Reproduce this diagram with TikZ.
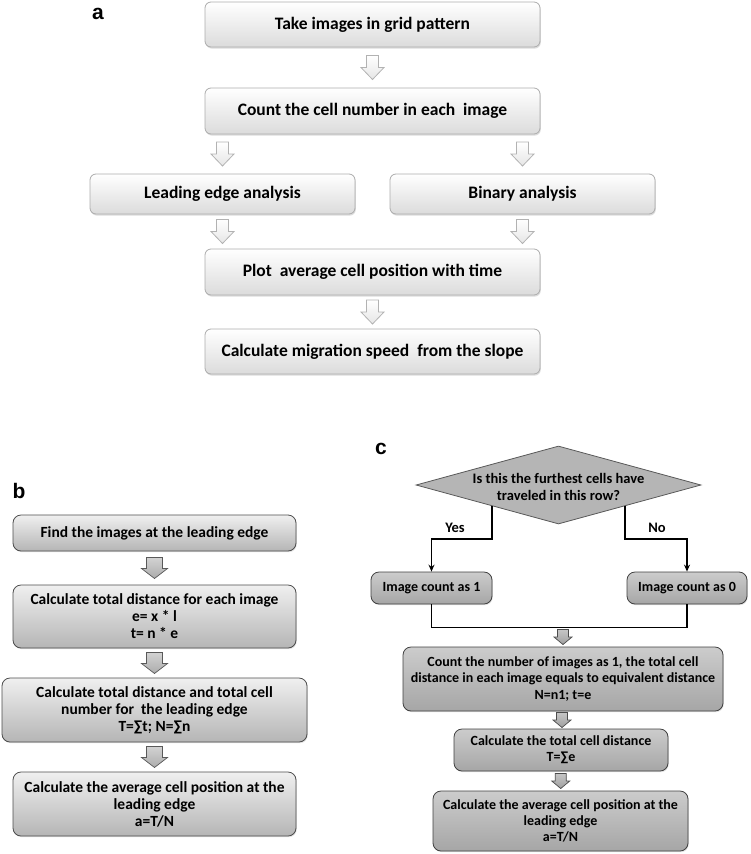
\documentclass[tikz,border=0pt]{standalone}
\usepackage{fontspec}
\setmainfont{Carlito}
\newfontfamily\labfont{Liberation Sans}
\usetikzlibrary{shapes.geometric,shadows,calc,arrows.meta}
\begin{document}
\begin{tikzpicture}[x=1pt,y=-1pt,
  boxA/.style={draw=gray!65, line width=0.8pt, rounded corners=6pt, top color=white, bottom color=gray!28,
    font=\fontsize{17.5}{20}\selectfont\bfseries, align=center, inner sep=0pt,
    drop shadow={shadow xshift=0.8pt,shadow yshift=-1.6pt,fill=gray!55}},
  boxB/.style={draw=black!70, line width=0.8pt, rounded corners=8pt, top color=gray!12, bottom color=gray!58,
    font=\fontsize{15.5}{17}\selectfont\bfseries, align=center, inner sep=0pt,
    drop shadow={shadow xshift=0.8pt,shadow yshift=-1.2pt,fill=gray!45}},
  boxC/.style={draw=black!75, line width=0.8pt, rounded corners=8pt, top color=gray!40, bottom color=gray!70,
    font=\fontsize{14}{16.3}\selectfont\bfseries, align=center, inner sep=0pt,
    drop shadow={shadow xshift=0.8pt,shadow yshift=-1.2pt,fill=gray!45}},
  arrA/.style={draw=gray!60, line width=0.8pt, top color=white, bottom color=gray!20},
  arrB/.style={draw=black!65, line width=0.7pt, top color=gray!35, bottom color=gray!65},
  arrC/.style={draw=black!70, line width=0.7pt, top color=gray!45, bottom color=gray!75},
  conn/.style={draw=black, line width=1.4pt},
  lab/.style={font=\labfont\fontsize{21}{21}\selectfont\bfseries},
  yn/.style={font=\fontsize{14.5}{16}\selectfont\bfseries},
  pics/arrowA/.style={code={\path[pic actions] (-6,-12) -- (6,-12) -- (6,0) -- (11.5,0) -- (0,12) -- (-11.5,0) -- (-6,0) -- cycle;}},
  pics/arrowB/.style={code={\path[pic actions] (-8,-10.5) -- (8,-10.5) -- (8,0.5) -- (13,0.5) -- (0,10.5) -- (-13,0.5) -- (-8,0.5) -- cycle;}},
  pics/arrowC/.style={code={\path[pic actions] (-5.5,-7.5) -- (5.5,-7.5) -- (5.5,0) -- (9,0) -- (0,7.5) -- (-9,0) -- (-5.5,0) -- cycle;}},
]
\useasboundingbox (0,0) rectangle (750,854);

% ---------- panel a ----------
\node[lab] (la) at (98,14) {a};
\node[boxA, minimum width=335pt, minimum height=45pt] (a1) at (372.5,24.5) {Take images in grid pattern};
\node[boxA, minimum width=335pt, minimum height=46pt] (a2) at (372.5,111) {Count the cell number in each \ image};
\node[boxA, minimum width=265pt, minimum height=40pt] (lead) at (222.5,194) {Leading edge analysis};
\node[boxA, minimum width=265pt, minimum height=40pt] (bin) at (522.5,194) {Binary analysis};
\node[boxA, minimum width=335pt, minimum height=46pt] (a3) at (372.5,272) {Plot \ average cell position with time};
\node[boxA, minimum width=335pt, minimum height=45pt] (a4) at (372.5,351.5) {Calculate migration speed \ from the slope};

\coordinate (ma1) at ($(a1.south)!0.5!(a2.north)$);
\pic[arrA] at (ma1) {arrowA};
\coordinate (ma2) at ($(a2.south)!0.5!(lead.north)$);
\pic[arrA] at (lead.north |- ma2) {arrowA};
\pic[arrA] at (bin.north |- ma2) {arrowA};
\coordinate (ma3) at ($(lead.south)!0.5!(a3.north)$);
\pic[arrA] at (lead.south |- ma3) {arrowA};
\pic[arrA] at (bin.south |- ma3) {arrowA};
\coordinate (ma4) at ($(a3.south)!0.5!(a4.north)$);
\pic[arrA] at (ma4) {arrowA};

% ---------- panel b ----------
\node[lab] (lb) at (19,491) {b};
\node[boxB, minimum width=283pt, minimum height=36pt] (b1) at (154.5,533) {Find the images at the leading edge};
\node[boxB, minimum width=283pt, minimum height=63pt] (b2) at (154.5,616.5) {Calculate total distance for each image\\e= x * l\\t= n * e};
\node[boxB, minimum width=305pt, minimum height=64pt] (b3) at (154.5,710) {Calculate total distance and total cell\\number for \ the leading edge\\T=∑t; N=∑n};
\node[boxB, minimum width=283pt, minimum height=64pt] (b4) at (154.5,804) {Calculate the average cell position at the\\leading edge\\a=T/N};

\pic[arrB] at ($(b1.south)!0.5!(b2.north)$) {arrowB};
\pic[arrB] at ($(b2.south)!0.5!(b3.north)$) {arrowB};
\pic[arrB] at ($(b3.south)!0.5!(b4.north)$) {arrowB};

% ---------- panel c ----------
\node[lab] (lc) at (381,449) {c};
\node[diamond, draw=black!65, line width=0.8pt, fill=gray!58, inner sep=0pt,
  minimum width=285pt, minimum height=78pt] (dia) at (558.5,485) {};
\node[align=center, font=\fontsize{14.5}{16.5}\selectfont\bfseries, inner sep=0pt] (diatext) at ($(dia.center)+(0,2)$)
  {Is this the furthest cells have\\traveled in this row?};
\node[boxC, minimum width=121pt, minimum height=32pt] (c1) at (431.5,588) {Image count as 1};
\node[boxC, minimum width=120pt, minimum height=32pt] (c2) at (687,588) {Image count as 0};
\node[boxC, minimum width=320pt, minimum height=64pt] (c3) at (563,679) {Count the number of images as 1, the total cell\\distance in each image equals to equivalent distance\\N=n1; t=e};
\node[boxC, minimum width=214pt, minimum height=42pt] (c4) at (561,750) {Calculate the total cell distance\\T=∑e};
\node[boxC, minimum width=255pt, minimum height=60pt] (c5) at (560.5,821) {Calculate the average cell position at the\\leading edge\\a=T/N};

\coordinate (dy) at (0,539);
\coordinate (dsw) at ($(dia.south)!0.465!(dia.west)$);
\coordinate (dse) at ($(dia.south)!0.465!(dia.east)$);
\draw[conn, -{Stealth[length=7pt,width=6pt]}] (dsw) -- (dsw |- dy) -| (c1.north);
\draw[conn, -{Stealth[length=7pt,width=6pt]}] (dse) -- (dse |- dy) -| (c2.north);
\node[yn] (yes) at (455,528) {Yes};
\node[yn] (no) at (657,528) {No};
\draw[conn] (c1.south) -- ++(0,23) coordinate (j1) -| (c2.south);
\pic[arrC] at ($(c3.north |- j1)!0.5!(c3.north)$) {arrowC};
\pic[arrC] at ($(c3.south)!0.5!(c4.north)$) {arrowC};
\pic[arrC] at ($(c4.south)!0.5!(c5.north)$) {arrowC};
\end{tikzpicture}
\end{document}
